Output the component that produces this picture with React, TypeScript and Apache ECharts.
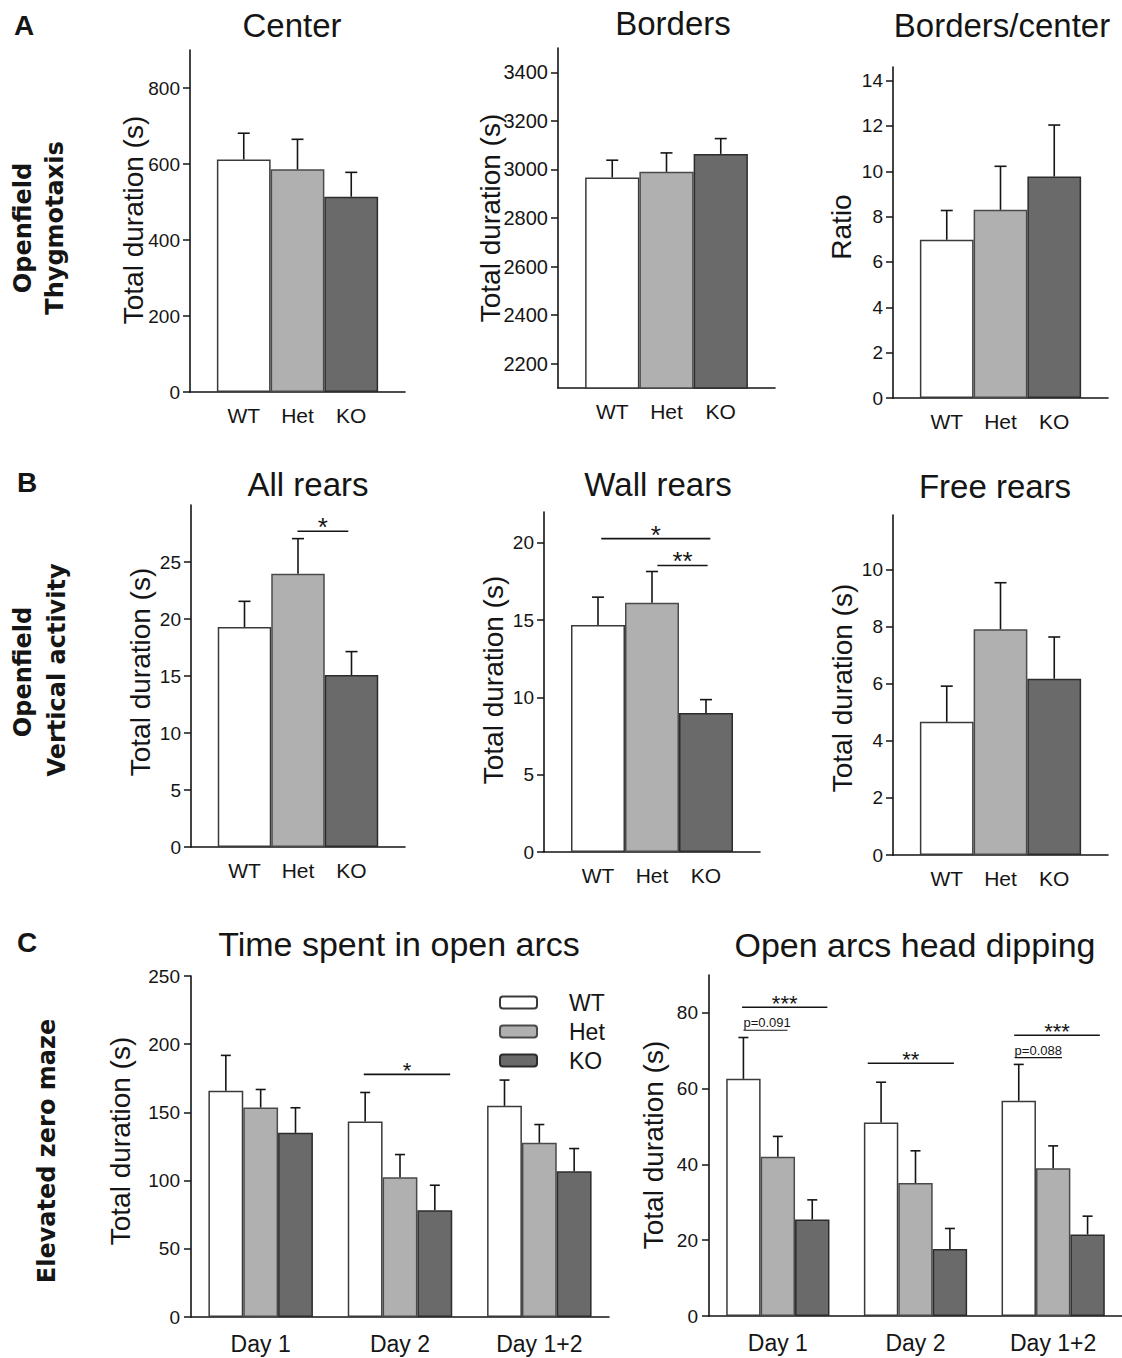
import React, { useEffect, useRef } from "react";
import * as echarts from "echarts";

// ---------- categories ----------
const GENOTYPES = ["WT", "Het", "KO"];
const DAYS = ["Day 1", "Day 2", "Day 1+2"];

// ---------- Panel A : Openfield thygmotaxis ----------
const centerMean = [612, 586, 514];
const centerSem = [69, 79, 64];
const bordersMean = [2967, 2990, 3064];
const bordersSem = [71, 78, 63];
const ratioMean = [6.98, 8.3, 9.77];
const ratioSem = [1.29, 1.92, 2.27];

// ---------- Panel B : Openfield vertical activity ----------
const allRearsMean = [19.3, 23.98, 15.09];
const allRearsSem = [2.25, 3.07, 2.05];
const wallRearsMean = [14.69, 16.12, 9.0];
const wallRearsSem = [1.8, 2.03, 0.86];
const freeRearsMean = [4.66, 7.9, 6.17];
const freeRearsSem = [1.25, 1.63, 1.46];

// ---------- Panel C : Elevated zero maze ----------
const openArcsWT = [165.9, 143.3, 154.8];
const openArcsWTSem = [25.9, 21.3, 18.9];
const openArcsHet = [153.6, 102.5, 127.7];
const openArcsHetSem = [13.2, 16.6, 13.4];
const openArcsKO = [135.0, 78.3, 106.9];
const openArcsKOSem = [18.4, 18.3, 16.6];

const headDipWT = [62.6, 51.1, 56.8];
const headDipWTSem = [10.9, 10.6, 9.6];
const headDipHet = [42.0, 35.1, 39.0];
const headDipHetSem = [5.4, 8.5, 5.9];
const headDipKO = [25.5, 17.7, 21.5];
const headDipKOSem = [5.15, 5.4, 4.85];

// ---------- tick labels ----------
const centerTicks = [0, 200, 400, 600, 800];
const bordersTicks = [2200, 2400, 2600, 2800, 3000, 3200, 3400];
const ratioTicks = [0, 2, 4, 6, 8, 10, 12, 14];
const allRearsTicks = [0, 5, 10, 15, 20, 25];
const wallRearsTicks = [0, 5, 10, 15, 20];
const freeRearsTicks = [0, 2, 4, 6, 8, 10];
const openArcsTicks = [0, 50, 100, 150, 200, 250];
const headDipTicks = [0, 20, 40, 60, 80];

// ---------- significance annotations (data units) ----------
type Sig = { from: number; to: number; y: number; label: string };
const allRearsSig: Sig[] = [{ from: 0.99, to: 1.94, y: 27.7, label: "*" }];
const wallRearsSig: Sig[] = [
  { from: 0.06, to: 2.08, y: 20.28, label: "*" },
  { from: 1.1, to: 2.03, y: 18.54, label: "**" },
];
const openArcsSig: Sig[] = [{ from: 0.74, to: 1.36, y: 177.9, label: "*" }];
const headDipSig: Sig[] = [
  { from: -0.26, to: 0.36, y: 81.5, label: "***" },
  { from: 0.653, to: 1.279, y: 66.7, label: "**" },
  { from: 1.717, to: 2.339, y: 74.1, label: "***" },
];
const headDipTrend: Sig[] = [
  { from: -0.25, to: 0.07, y: 75.4, label: "p=0.091" },
  { from: 1.72, to: 2.064, y: 68.2, label: "p=0.088" },
];

// ---------- styling ----------
const FONT = "'Liberation Sans', Arial, Helvetica, sans-serif";
const ROWFONT = "'DejaVu Sans', Verdana, sans-serif";
const INK = "#151515";
const BAR_FILL = ["#ffffff", "#b0b0b0", "#6a6a6a"];
const BAR_EDGE = ["#3a3a3a", "#4a4a4a", "#2c2c2c"];

const singlePanels = [
  { title: "Center", yName: "Total duration (s)", mean: centerMean, sem: centerSem, ticks: centerTicks, yMin: 0, yMax: 900, sig: [] as Sig[],
    grid: { left: 190, top: 50, width: 215, height: 342 }, titlePos: [292, 25], yNamePos: [133, 220], tickFont: 19 },
  { title: "Borders", yName: "Total duration (s)", mean: bordersMean, sem: bordersSem, ticks: bordersTicks, yMin: 2100, yMax: 3500, sig: [] as Sig[],
    grid: { left: 558, top: 48, width: 217, height: 340 }, titlePos: [673, 23], yNamePos: [490, 218], tickFont: 20 },
  { title: "Borders/center", yName: "Ratio", mean: ratioMean, sem: ratioSem, ticks: ratioTicks, yMin: 0, yMax: 14.6, sig: [] as Sig[],
    grid: { left: 893, top: 67, width: 215, height: 331 }, titlePos: [1002, 25], yNamePos: [841, 227], tickFont: 19 },
  { title: "All rears", yName: "Total duration (s)", mean: allRearsMean, sem: allRearsSem, ticks: allRearsTicks, yMin: 0, yMax: 30, sig: allRearsSig,
    grid: { left: 191, top: 505, width: 214, height: 342 }, titlePos: [308, 484], yNamePos: [140, 672], tickFont: 19 },
  { title: "Wall rears", yName: "Total duration (s)", mean: wallRearsMean, sem: wallRearsSem, ticks: wallRearsTicks, yMin: 0, yMax: 22, sig: wallRearsSig,
    grid: { left: 544, top: 512, width: 216, height: 340 }, titlePos: [658, 484], yNamePos: [493, 680], tickFont: 19 },
  { title: "Free rears", yName: "Total duration (s)", mean: freeRearsMean, sem: freeRearsSem, ticks: freeRearsTicks, yMin: 0, yMax: 11.9, sig: [] as Sig[],
    grid: { left: 893, top: 515, width: 215, height: 340 }, titlePos: [995, 486], yNamePos: [842, 688], tickFont: 19 },
];

const groupedPanels = [
  { title: "Time spent in open arcs", yName: "Total duration (s)",
    means: [openArcsWT, openArcsHet, openArcsKO], sems: [openArcsWTSem, openArcsHetSem, openArcsKOSem],
    ticks: openArcsTicks, yMax: 250, sig: openArcsSig, trend: [] as Sig[],
    grid: { left: 191, top: 976, width: 418, height: 341 }, titlePos: [399, 944], yNamePos: [120, 1141], starFont: 22 },
  { title: "Open arcs head dipping", yName: "Total duration (s)",
    means: [headDipWT, headDipHet, headDipKO], sems: [headDipWTSem, headDipHetSem, headDipKOSem],
    ticks: headDipTicks, yMax: 90, sig: headDipSig, trend: headDipTrend,
    grid: { left: 709, top: 975, width: 418, height: 341 }, titlePos: [915, 945], yNamePos: [653, 1145], starFont: 22 },
];

function txt(x: number, y: number, text: string, size: number, opts: any = {}) {
  return {
    type: "text",
    x,
    y,
    rotation: opts.rot || 0,
    silent: true,
    style: {
      text,
      fontSize: size,
      fontFamily: opts.family || FONT,
      fontWeight: opts.weight || "normal",
      fill: INK,
      align: "center",
      verticalAlign: "middle",
    },
  };
}

function errorSeries(idx: number, pts: number[][], cap: number) {
  return {
    type: "custom",
    xAxisIndex: idx,
    yAxisIndex: idx,
    silent: true,
    z: 5,
    data: pts,
    renderItem: (params: any, api: any) => {
      const x = api.value(0);
      const a = api.coord([x, api.value(1)]);
      const b = api.coord([x, api.value(2)]);
      return {
        type: "group",
        children: [
          { type: "line", shape: { x1: a[0], y1: a[1], x2: b[0], y2: b[1] }, style: { stroke: INK, lineWidth: 1.6 } },
          { type: "line", shape: { x1: b[0] - cap, y1: b[1], x2: b[0] + cap, y2: b[1] }, style: { stroke: INK, lineWidth: 1.6 } },
        ],
      };
    },
  };
}

function sigSeries(idx: number, items: Sig[], fontSize: number, lift: number, trend = false) {
  return {
    type: "custom",
    xAxisIndex: idx,
    yAxisIndex: idx,
    silent: true,
    z: 6,
    data: items.map((s) => [s.from, s.y, s.to]),
    renderItem: (params: any, api: any) => {
      const s = items[params.dataIndex];
      const p1 = api.coord([s.from, s.y]);
      const p2 = api.coord([s.to, s.y]);
      const textEl = trend
        ? { type: "text", x: p1[0], y: p1[1] - 1, style: { text: s.label, fontSize, fontFamily: FONT, fill: INK, align: "left", verticalAlign: "bottom" } }
        : { type: "text", x: (p1[0] + p2[0]) / 2, y: p1[1] - lift, style: { text: s.label, fontSize, fontFamily: FONT, fill: INK, align: "center", verticalAlign: "middle" } };
      return {
        type: "group",
        children: [
          { type: "line", shape: { x1: p1[0], y1: p1[1], x2: p2[0], y2: p1[1] }, style: { stroke: INK, lineWidth: trend ? 1.1 : 1.6 } },
          textEl,
        ],
      };
    },
  };
}

const plain = (v: number) => String(v);

function buildOption() {
  const grid: any[] = [];
  const xAxis: any[] = [];
  const yAxis: any[] = [];
  const series: any[] = [];
  const graphic: any[] = [];
  const axisLine = { show: true, onZero: false, lineStyle: { color: INK, width: 1.6 } };

  singlePanels.forEach((p, i) => {
    grid.push({ ...p.grid, containLabel: false });
    xAxis.push({
      gridIndex: i, type: "value", min: -1, max: 3,
      axisLine, axisTick: { show: false }, splitLine: { show: false },
      axisLabel: { customValues: [0, 1, 2], formatter: (v: number) => GENOTYPES[Math.round(v)] ?? "", fontSize: 21, color: INK, fontFamily: FONT, margin: 13 },
    });
    yAxis.push({
      gridIndex: i, type: "value", min: p.yMin, max: p.yMax,
      axisLine, splitLine: { show: false },
      axisTick: { show: true, customValues: p.ticks, length: 7, lineStyle: { color: INK, width: 1.5 } },
      axisLabel: { customValues: p.ticks, formatter: plain, fontSize: p.tickFont, color: INK, fontFamily: FONT, margin: 10 },
    });
    series.push({
      type: "bar", name: p.title, xAxisIndex: i, yAxisIndex: i, barWidth: "100%", z: 2,
      data: p.mean.map((v, k) => ({ value: [k, v], itemStyle: { color: BAR_FILL[k], borderColor: BAR_EDGE[k], borderWidth: 1.5 } })),
    });
    series.push(errorSeries(i, p.mean.map((v, k) => [k, v, v + p.sem[k]]), 6));
    if (p.sig.length) series.push(sigSeries(i, p.sig, 26, 4));
    graphic.push(txt(p.titlePos[0], p.titlePos[1], p.title, 33));
    graphic.push(txt(p.yNamePos[0], p.yNamePos[1], p.yName, 28, { rot: Math.PI / 2 }));
  });

  groupedPanels.forEach((p, j) => {
    const i = singlePanels.length + j;
    grid.push({ ...p.grid, containLabel: false });
    xAxis.push({
      gridIndex: i, type: "value", min: -0.5, max: 2.5,
      axisLine, axisTick: { show: false }, splitLine: { show: false },
      axisLabel: { customValues: [0, 1, 2], formatter: (v: number) => DAYS[Math.round(v)] ?? "", fontSize: 23, color: INK, fontFamily: FONT, margin: 15 },
    });
    yAxis.push({
      gridIndex: i, type: "value", min: 0, max: p.yMax,
      axisLine, splitLine: { show: false },
      axisTick: { show: true, customValues: p.ticks, length: 7, lineStyle: { color: INK, width: 1.5 } },
      axisLabel: { customValues: p.ticks, formatter: plain, fontSize: 19, color: INK, fontFamily: FONT, margin: 11 },
    });
    p.means.forEach((arr, g) => {
      series.push({
        type: "bar", name: GENOTYPES[g], xAxisIndex: i, yAxisIndex: i, barWidth: "25%", barGap: "0%", z: 2,
        itemStyle: { color: BAR_FILL[g], borderColor: BAR_EDGE[g], borderWidth: 1.5 },
        data: arr.map((v, c) => [c, v]),
      });
    });
    const pts: number[][] = [];
    p.means.forEach((arr, g) => arr.forEach((v, c) => pts.push([c + (g - 1) * 0.25, v, v + p.sems[g][c]])));
    series.push(errorSeries(i, pts, 5));
    series.push(sigSeries(i, p.sig, p.starFont, 4));
    if (p.trend.length) series.push(sigSeries(i, p.trend, 13, 0, true));
    graphic.push(txt(p.titlePos[0], p.titlePos[1], p.title, 34));
    graphic.push(txt(p.yNamePos[0], p.yNamePos[1], p.yName, 28, { rot: Math.PI / 2 }));
  });

  // panel letters
  graphic.push(txt(24, 25, "A", 28, { weight: "bold" }));
  graphic.push(txt(27, 482, "B", 28, { weight: "bold" }));
  graphic.push(txt(27, 942, "C", 28, { weight: "bold" }));
  // row labels
  const rowOpt = { rot: Math.PI / 2, weight: "bold", family: ROWFONT };
  graphic.push(txt(23, 228, "Openfield", 24, rowOpt));
  graphic.push(txt(55, 228, "Thygmotaxis", 24, rowOpt));
  graphic.push(txt(23, 672, "Openfield", 24, rowOpt));
  graphic.push(txt(57, 670, "Vertical activity", 24, rowOpt));
  graphic.push(txt(47, 1151, "Elevated zero maze", 24, rowOpt));

  return {
    animation: false,
    backgroundColor: "#ffffff",
    grid,
    xAxis,
    yAxis,
    series,
    graphic,
    legend: {
      data: GENOTYPES,
      orient: "vertical",
      left: 494,
      top: 986,
      itemWidth: 37,
      itemHeight: 12,
      itemGap: 6,
      icon: "roundRect",
      selectedMode: false,
      textStyle: { fontSize: 23, color: INK, fontFamily: FONT, padding: [0, 0, 0, 27] },
    },
  };
}

export default function App() {
  const ref = useRef<HTMLDivElement>(null);
  useEffect(() => {
    document.body.style.margin = "0";
    const chart = echarts.init(ref.current!, undefined, { renderer: "svg" });
    chart.setOption(buildOption() as any);
    return () => chart.dispose();
  }, []);
  return <div ref={ref} style={{ width: 1122, height: 1358 }} />;
}
